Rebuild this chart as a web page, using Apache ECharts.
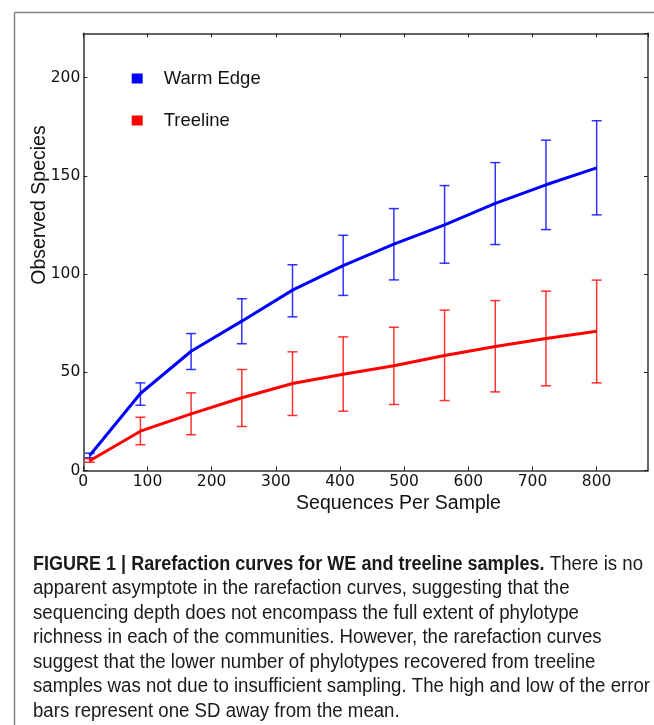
<!DOCTYPE html>
<html>
<head>
<meta charset="utf-8">
<script src="https://cdn.jsdelivr.net/npm/echarts@6/dist/echarts.min.js"></script>
<style>
html,body{margin:0;padding:0;background:#fff;}
#chart{width:654px;height:725px;}
</style>
</head>
<body>
<div id="chart"></div>
<script>
// Sequences per sample (rarefaction depths)
const depths = [10, 89, 168, 247, 326, 405, 484, 563, 642, 721, 800];
// Warm Edge: mean and mean±SD
const weMean = [7.6, 39.2, 60.7, 76.0, 91.8, 104.3, 115.2, 125.0, 135.9, 145.4, 154.0];
const weLow  = [6.5, 33.2, 51.4, 64.5, 78.2, 89.1, 97.0, 105.5, 115.0, 122.6, 130.1];
const weHigh = [8.8, 44.6, 69.7, 87.4, 104.7, 119.7, 133.3, 145.0, 156.7, 168.1, 178.0];
// Treeline: mean and mean±SD
const tlMean = [5.0, 20.0, 28.8, 37.0, 44.3, 49.0, 53.3, 58.5, 63.1, 67.2, 70.9];
const tlLow  = [4.2, 13.1, 18.2, 22.4, 28.0, 30.2, 33.6, 35.6, 40.0, 43.1, 44.6];
const tlHigh = [6.0, 27.1, 39.5, 51.4, 60.4, 68.0, 72.9, 81.6, 86.5, 91.3, 96.9];
const seriesNames = ['Warm Edge', 'Treeline'];
const xTitle = 'Sequences Per Sample';
const yTitle = 'Observed Species';
const captionBold = 'FIGURE 1 | Rarefaction curves for WE and treeline samples.';
const captionLines = [
  'There is no',
  'apparent asymptote in the rarefaction curves, suggesting that the',
  'sequencing depth does not encompass the full extent of phylotype',
  'richness in each of the communities. However, the rarefaction curves',
  'suggest that the lower number of phylotypes recovered from treeline',
  'samples was not due to insufficient sampling. The high and low of the error',
  'bars represent one SD away from the mean.'
];

const BLUE = '#0000ff', RED = '#ff0000';
const tickFont = 'DejaVu Sans';
const labFont = 'Liberation Sans';

function errSeries(name, low, high, color) {
  return {
    type: 'custom',
    name: name + ' SD',
    silent: true,
    z: 2,
    data: depths.map((x, i) => [x, low[i], high[i]]),
    encode: {x: 0, y: [1, 2]},
    renderItem: function (params, api) {
      const x = api.value(0);
      const a = api.coord([x, api.value(1)]);
      const b = api.coord([x, api.value(2)]);
      const w = 5;
      const st = {stroke: color, lineWidth: 1.5, opacity: 0.8};
      return {
        type: 'group',
        children: [
          {type: 'line', shape: {x1: a[0], y1: a[1], x2: b[0], y2: b[1]}, style: st},
          {type: 'line', shape: {x1: a[0] - w, y1: a[1], x2: a[0] + w, y2: a[1]}, style: st},
          {type: 'line', shape: {x1: b[0] - w, y1: b[1], x2: b[0] + w, y2: b[1]}, style: st}
        ]
      };
    }
  };
}

function lineSeries(name, mean, color) {
  return {
    type: 'line',
    name: name,
    z: 3,
    showSymbol: false,
    symbol: 'none',
    color: color,
    lineStyle: {color: color, width: 3},
    itemStyle: {color: color},
    data: depths.map((x, i) => [x, mean[i]])
  };
}

const axisLineStyle = {color: '#333', width: 1.5};
const chart = echarts.init(document.getElementById('chart'), null, {renderer: 'canvas'});

// caption layout: fit to reference line extents
const capSize = 20;
const capX = 33, capY0 = 564, capStep = 24.55;
const regFont = capSize + 'px "Liberation Sans"';
const boldFont = 'bold ' + capSize + 'px "Liberation Sans"';
const ctx = document.createElement('canvas').getContext('2d');
ctx.font = regFont;
const capRegScale = 617 / ctx.measureText(captionLines[5]).width;
const tailW = ctx.measureText(' ' + captionLines[0]).width * capRegScale;
ctx.font = boldFont;
const capBoldScale = (610 - tailW) / ctx.measureText(captionBold).width;
const boldW = ctx.measureText(captionBold).width * capBoldScale;

const graphics = [
  {type: 'line', shape: {x1: 14.5, y1: 12.5, x2: 654, y2: 12.5}, style: {stroke: '#808080', lineWidth: 1.5}},
  {type: 'line', shape: {x1: 14.5, y1: 12.5, x2: 14.5, y2: 725}, style: {stroke: '#808080', lineWidth: 1.5}},
  {type: 'text', x: 398.5, y: 504, style: {text: xTitle, font: '19.5px "Liberation Sans"', fill: '#111', textAlign: 'center', textVerticalAlign: 'middle'}},
  {type: 'text', x: 40, y: 205, rotation: Math.PI / 2, style: {text: yTitle, font: '19.5px "Liberation Sans"', fill: '#111', textAlign: 'center', textVerticalAlign: 'middle'}}
];
graphics.push({
  type: 'text', x: capX, y: capY0, scaleX: capBoldScale,
  style: {text: captionBold, font: boldFont, fill: '#1a1a1a', textAlign: 'left', textVerticalAlign: 'middle'}
});
captionLines.forEach((t, i) => {
  graphics.push({
    type: 'text', x: i === 0 ? capX + boldW : capX, y: capY0 + i * capStep, scaleX: capRegScale,
    style: {text: i === 0 ? ' ' + t : t, font: regFont, fill: '#1a1a1a', textAlign: 'left', textVerticalAlign: 'middle'}
  });
});

chart.setOption({
  animation: false,
  backgroundColor: '#fff',
  grid: {left: 83.3, top: 33.3, right: 6, bottom: 254.5, containLabel: false},
  legend: {
    data: seriesNames,
    orient: 'vertical',
    left: 131.7,
    top: 67.5,
    padding: 0,
    itemGap: 20,
    icon: 'rect',
    itemWidth: 11,
    itemHeight: 10,
    textStyle: {fontFamily: labFont, fontSize: 18.5, color: '#111', lineHeight: 22, padding: [0, 0, 0, 16]}
  },
  xAxis: [{
    type: 'value', min: 0, max: 880, interval: 100,
    axisLine: {show: true, onZero: false, lineStyle: axisLineStyle},
    axisTick: {show: true, inside: true, length: 4, lineStyle: {color: '#222', width: 1}},
    axisLabel: {fontFamily: tickFont, fontSize: 15.5, color: '#111', margin: 3, showMaxLabel: false},
    splitLine: {show: false}
  }, {
    type: 'value', position: 'top', min: 0, max: 880, interval: 100,
    axisLine: {show: true, onZero: false, lineStyle: axisLineStyle},
    axisTick: {show: true, inside: true, length: 4, lineStyle: {color: '#222', width: 1}},
    axisLabel: {show: false}, splitLine: {show: false}
  }],
  yAxis: [{
    type: 'value', min: 0, max: 222.5, interval: 50,
    axisLine: {show: true, onZero: false, lineStyle: axisLineStyle},
    axisTick: {show: true, inside: true, length: 4, lineStyle: {color: '#222', width: 1}},
    axisLabel: {fontFamily: tickFont, fontSize: 15.5, color: '#111', margin: 3, showMaxLabel: false},
    splitLine: {show: false}
  }, {
    type: 'value', position: 'right', min: 0, max: 222.5, interval: 50,
    axisLine: {show: true, onZero: false, lineStyle: axisLineStyle},
    axisTick: {show: true, inside: true, length: 4, lineStyle: {color: '#222', width: 1}},
    axisLabel: {show: false}, splitLine: {show: false}
  }],
  series: [
    errSeries(seriesNames[0], weLow, weHigh, BLUE),
    errSeries(seriesNames[1], tlLow, tlHigh, RED),
    lineSeries(seriesNames[0], weMean, BLUE),
    lineSeries(seriesNames[1], tlMean, RED)
  ],
  graphic: graphics
});
</script>
</body>
</html>
